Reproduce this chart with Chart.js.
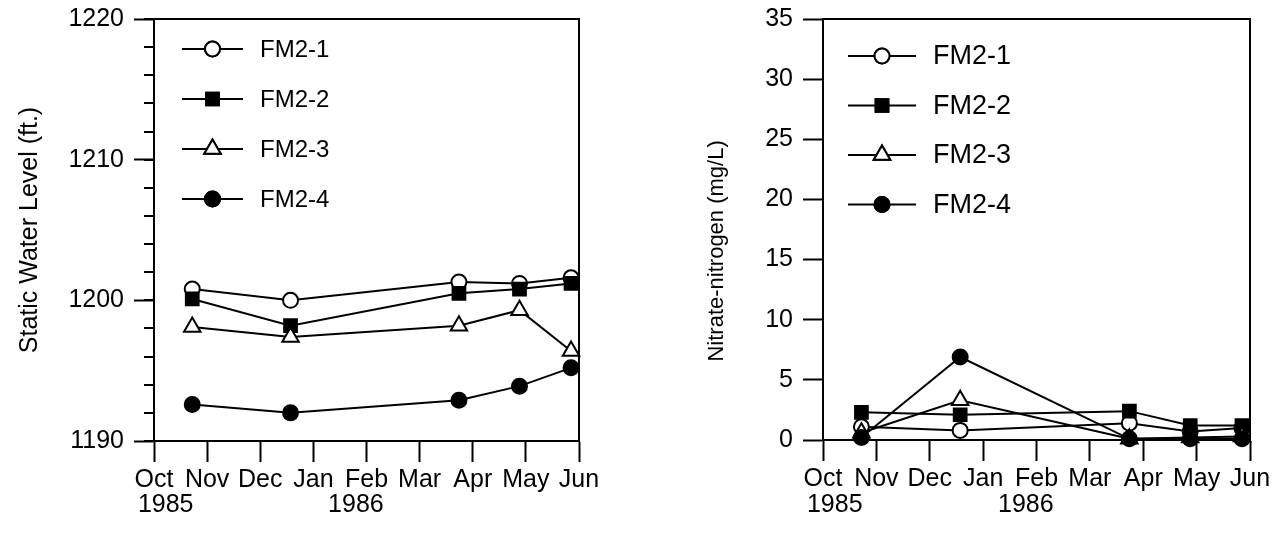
<!DOCTYPE html>
<html lang="en">
<head>
<meta charset="UTF-8">
<title>FM2 wells - water level and nitrate</title>
<script src="https://cdn.jsdelivr.net/npm/chart.js"></script>
<style>
  body { margin: 0; background: #fff; }
  .panel { position: absolute; top: 0; }
</style>
</head>
<body>
<div class="panel" style="left:0"><canvas id="levelCanvas" width="640" height="536"></canvas></div>
<div class="panel" style="left:640px"><canvas id="nitrateCanvas" width="642" height="536"></canvas></div>

<script>
    // x values are months after 1 Oct 1985
    const monthLabels = ['Oct', 'Nov', 'Dec', 'Jan', 'Feb', 'Mar', 'Apr', 'May', 'Jun'];
    const yearLabels = ['1985', '1986'];
    const sampleMonths = [0.72, 2.57, 5.74, 6.88, 7.85];
    const wellNames = ['FM2-1', 'FM2-2', 'FM2-3', 'FM2-4'];

    // static water level (ft.)
    const levelFM21 = [1200.8, 1200.0, 1201.3, 1201.2, 1201.6];
    const levelFM22 = [1200.1, 1198.2, 1200.5, 1200.8, 1201.2];
    const levelFM23 = [1198.1, 1197.4, 1198.2, 1199.3, 1196.4];
    const levelFM24 = [1192.6, 1192.0, 1192.9, 1193.9, 1195.2];

    // nitrate-nitrogen (mg/L)
    const nitrateFM21 = [1.1, 0.8, 1.4, 0.7, 1.0];
    const nitrateFM22 = [2.3, 2.1, 2.4, 1.2, 1.2];
    const nitrateFM23 = [0.6, 3.3, 0.1, 0.2, 0.3];
    const nitrateFM24 = [0.2, 6.9, 0.1, 0.1, 0.1];

    const FONT = 'Liberation Sans, Arial, Helvetica, sans-serif';
    Chart.defaults.font.family = FONT;
    Chart.defaults.color = '#000';

    const markers = [
        { style: 'circle', radius: 7.5, fill: '#fff' },
        { style: 'rect', radius: 9, fill: '#000' },
        { style: 'triangle', radius: 9.5, fill: '#fff' },
        { style: 'circle', radius: 7.5, fill: '#000' }
    ];

    function makeDatasets(seriesList) {
        return seriesList.map((values, i) => ({
            label: wellNames[i],
            data: values.map((v, j) => ({ x: sampleMonths[j], y: v })),
            borderColor: '#000',
            borderWidth: 2,
            pointStyle: markers[i].style,
            pointRadius: markers[i].radius,
            pointBackgroundColor: markers[i].fill,
            pointBorderColor: '#000',
            pointBorderWidth: 2,
            tension: 0,
            fill: false,
            clip: false,
            order: seriesList.length - i // later wells drawn on top
        }));
    }

    // legend inside the plot, minor y ticks, year labels under the month axis
    const extrasPlugin = {
        id: 'extras',
        afterDraw(chart, args, opts) {
            const ctx = chart.ctx;
            const area = chart.chartArea;
            const xs = chart.scales.x;
            const ys = chart.scales.y;
            ctx.save();
            ctx.strokeStyle = '#000';
            ctx.fillStyle = '#000';
            ctx.lineWidth = 2;

            if (opts.minorStep) {
                for (let v = ys.min; v <= ys.max; v += opts.minorStep) {
                    const py = Math.round(ys.getPixelForValue(v));
                    ctx.beginPath();
                    ctx.moveTo(area.left - 10, py);
                    ctx.lineTo(area.left, py);
                    ctx.stroke();
                }
            }

            ctx.font = '25px ' + FONT;
            ctx.textAlign = 'center';
            ctx.textBaseline = 'middle';
            yearLabels.forEach((t, i) => {
                ctx.fillText(t, xs.getPixelForValue(opts.yearAt[i]), opts.yearY);
            });

            const lg = opts.legend;
            ctx.font = lg.fontSize + 'px ' + FONT;
            ctx.textAlign = 'left';
            chart.data.datasets.forEach((ds, i) => {
                const y = area.top + lg.top + i * lg.gap;
                const x0 = area.left + lg.left;
                ctx.beginPath();
                ctx.moveTo(x0, y);
                ctx.lineTo(x0 + lg.lineLen, y);
                ctx.stroke();
                ctx.fillStyle = ds.pointBackgroundColor;
                Chart.helpers.drawPoint(ctx, {
                    pointStyle: ds.pointStyle,
                    radius: ds.pointRadius,
                    borderWidth: 2,
                    rotation: 0
                }, x0 + lg.lineLen / 2, y);
                ctx.fill();
                ctx.stroke();
                ctx.fillStyle = '#000';
                ctx.fillText(ds.label, x0 + lg.textOffset, y + 1);
            });
            ctx.restore();
        }
    };

    function renderChart(canvasId, seriesList, cfg) {
        const ctx = document.getElementById(canvasId).getContext('2d');
        const axisLine = { display: true, color: '#000', width: 2 };
        new Chart(ctx, {
            type: 'line',
            data: { datasets: makeDatasets(seriesList) },
            options: {
                responsive: false,
                animation: false,
                events: [],
                layout: { padding: cfg.padding },
                scales: {
                    x: {
                        type: 'linear',
                        position: 'bottom',
                        min: 0,
                        max: 8,
                        afterFit: s => { s.height = cfg.xAxisHeight; },
                        border: axisLine,
                        grid: { drawOnChartArea: false, tickLength: 21, tickWidth: 2, tickColor: '#000' },
                        ticks: {
                            stepSize: 1,
                            autoSkip: false,
                            maxRotation: 0,
                            padding: 3,
                            font: { size: 25 },
                            callback: v => monthLabels[v]
                        }
                    },
                    y: {
                        position: 'left',
                        min: cfg.yMin,
                        max: cfg.yMax,
                        afterFit: s => {
                            s.width = cfg.yAxisWidth;
                            // keep the plot top where the layout padding puts it
                            s.paddingTop = 0;
                            s.paddingBottom = 0;
                        },
                        border: axisLine,
                        grid: { drawOnChartArea: false, tickLength: 20, tickWidth: 2, tickColor: '#000' },
                        ticks: {
                            stepSize: cfg.yStep,
                            padding: 10,
                            font: { size: 25 },
                            callback: v => String(v)
                        },
                        title: {
                            display: true,
                            text: cfg.yTitle,
                            font: { size: cfg.titleSize },
                            padding: { top: cfg.titlePad, bottom: 0 }
                        }
                    },
                    xTop: {
                        type: 'linear',
                        position: 'top',
                        afterFit: s => { s.height = 0; },
                        border: axisLine,
                        grid: { display: false, drawTicks: false },
                        ticks: { display: false }
                    },
                    yRight: {
                        type: 'linear',
                        position: 'right',
                        afterFit: s => { s.width = 0; },
                        border: axisLine,
                        grid: { display: false, drawTicks: false },
                        ticks: { display: false }
                    }
                },
                plugins: {
                    legend: { display: false },
                    tooltip: { enabled: false },
                    extras: {
                        minorStep: cfg.minorStep,
                        yearAt: [0.22, 3.8],
                        yearY: 505,
                        legend: cfg.legend
                    }
                }
            },
            plugins: [extrasPlugin]
        });
    }

    renderChart('levelCanvas', [levelFM21, levelFM22, levelFM23, levelFM24], {
        padding: { left: 0, top: 19, right: 61, bottom: 0 },
        xAxisHeight: 95,
        yAxisWidth: 154,
        yMin: 1190, yMax: 1220, yStep: 10, minorStep: 2,
        yTitle: 'Static Water Level (ft.)',
        titleSize: 25,
        titlePad: 15,
        legend: { left: 28, top: 30, gap: 50, lineLen: 61, textOffset: 78, fontSize: 24 }
    });

    renderChart('nitrateCanvas', [nitrateFM21, nitrateFM22, nitrateFM23, nitrateFM24], {
        padding: { left: 0, top: 19, right: 32, bottom: 0 },
        xAxisHeight: 96,
        yAxisWidth: 183,
        yMin: 0, yMax: 35, yStep: 5, minorStep: 0,
        // trailing spaces push the centred title down, as in the original
        yTitle: 'Nitrate-nitrogen (mg/L)       ',
        titleSize: 22,
        titlePad: 64,
        legend: { left: 25, top: 37, gap: 49.5, lineLen: 68, textOffset: 85, fontSize: 27 }
    });
</script>
</body>
</html>
